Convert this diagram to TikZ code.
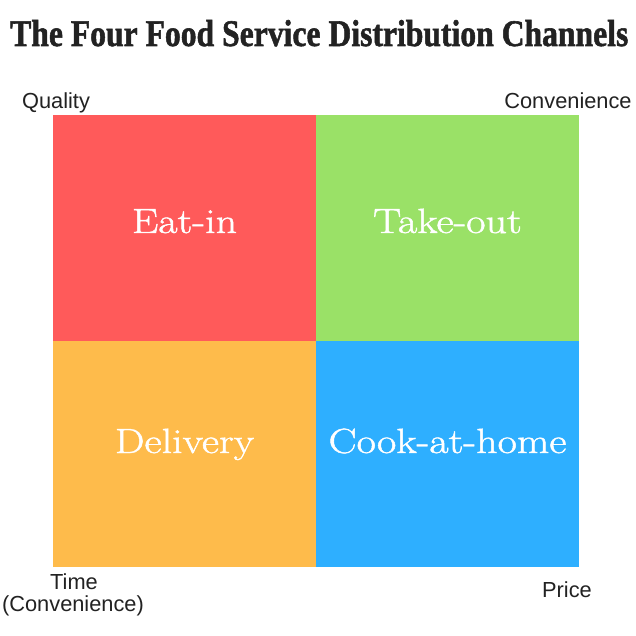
\documentclass[tikz,border=0pt]{standalone}
\usepackage{fontspec}
\newfontfamily\labfont{Liberation Sans}
\newfontfamily\titlefont[FakeBold=1.5]{Liberation Serif}
\newfontfamily\qfont[FakeBold=1.2]{Latin Modern Roman}
\usepackage{graphicx}
\definecolor{qred}{HTML}{FF5A5A}
\definecolor{qgreen}{HTML}{9AE167}
\definecolor{qorange}{HTML}{FEBB4B}
\definecolor{qblue}{HTML}{2EAFFF}
\definecolor{ink}{HTML}{222222}
\newcommand{\qtext}[1]{\scalebox{1.2}[1]{#1}}
\begin{document}
\begin{tikzpicture}[x=1pt,y=-1pt,
  quad/.style={draw=none,inner sep=0pt,minimum width=263pt,minimum height=226pt,anchor=north west},
  qlab/.style={text=white,inner sep=0pt,anchor=base,font=\qfont\fontsize{35}{40}\selectfont},
  axlab/.style={text=ink,inner sep=0pt,anchor=base,align=center,font=\labfont\fontsize{21.8}{22.5}\selectfont}]
\useasboundingbox (0,0) rectangle (636,636);
\fill[white] (0,0) rectangle (636,636);
\node[inner sep=0pt,anchor=base west,text=ink] (title) at (10,46)
  {\resizebox{618pt}{26pt}{\titlefont\bfseries The Four Food Service Distribution Channels}};
\node[quad,fill=qred] (q1) at (53,115) {};
\node[quad,fill=qgreen] (q2) at (316,115) {};
\node[quad,fill=qorange] (q3) at (53,341) {};
\node[quad,fill=qblue] (q4) at (316,341) {};
\node[qlab] (eatin) at (184.5,233) {\qtext{Eat-in}};
\node[qlab] (takeout) at (447.5,233) {\qtext{Take-out}};
\node[qlab] (delivery) at (184.5,453) {\qtext{Delivery}};
\node[qlab] (cook) at (447.5,453) {\qtext{Cook-at-home}};
\node[axlab] (quality) at (56,109) {Quality};
\node[axlab] (conv) at (568,109) {Convenience};
\node[axlab] (time) at (74,589) {Time};
\node[axlab] (timeconv) at (73,611) {(Convenience)};
\node[axlab] (price) at (567,597) {Price};
\end{tikzpicture}
\end{document}
